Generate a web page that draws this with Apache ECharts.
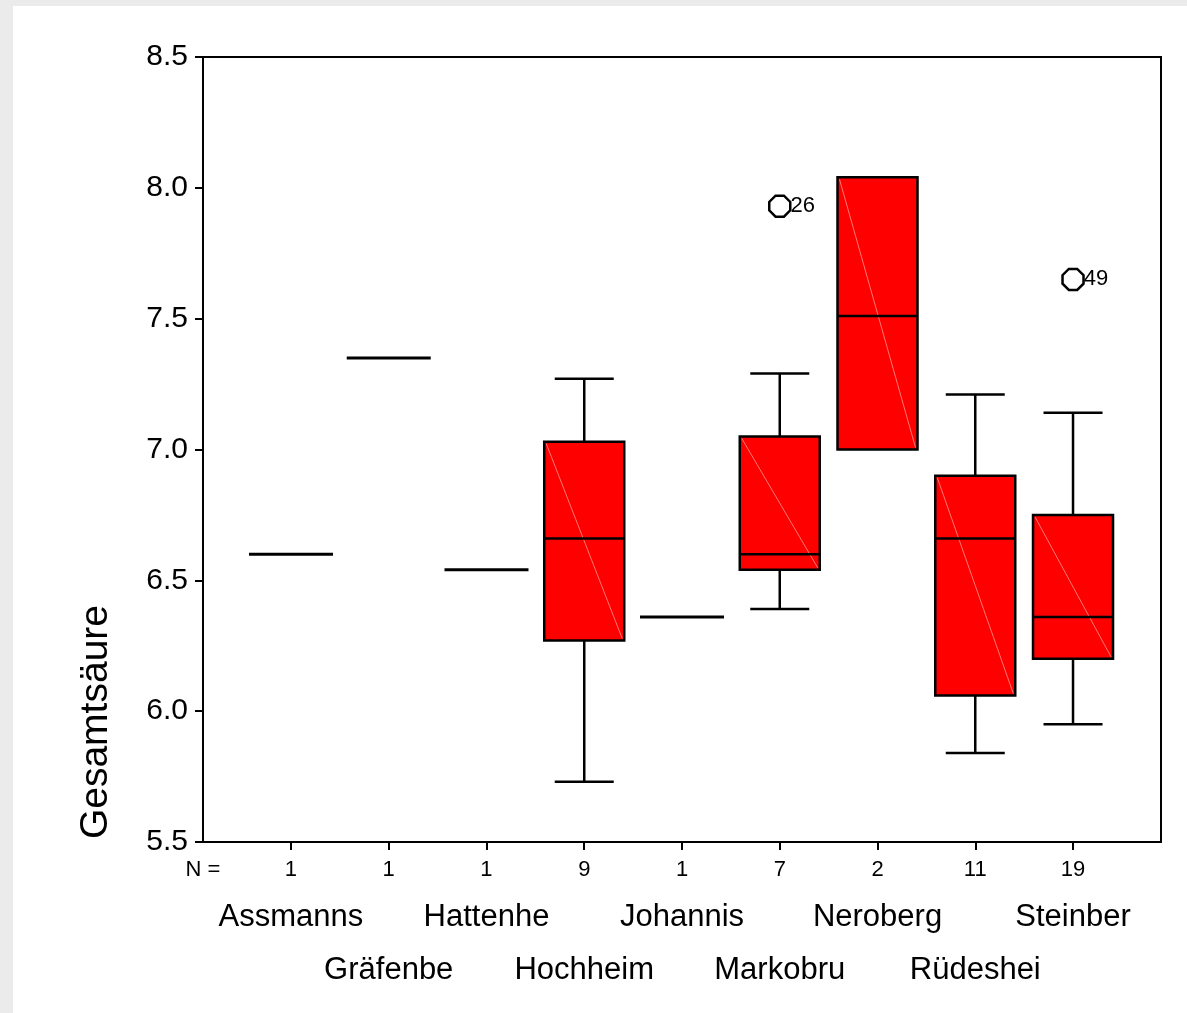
<!DOCTYPE html>
<html>
<head>
<meta charset="utf-8">
<script src="https://cdn.jsdelivr.net/npm/echarts@6/dist/echarts.min.js"></script>
<style>
    html, body {margin: 0; padding: 0; background: #ebebeb; width: 1187px; height: 1013px; overflow: hidden;}
    #main {position: absolute; left: 13px; top: 6px; width: 1174px; height: 1007px; background: #fff;}
</style>
</head>
<body>
<div id="main"></div>
<script>
// Gruppen (Lagen) und Fallzahlen
let categories = ['Assmanns', 'Gräfenbe', 'Hattenhe', 'Hochheim', 'Johannis', 'Markobru', 'Neroberg', 'Rüdeshei', 'Steinber'];
let counts = [1, 1, 1, 9, 1, 7, 2, 11, 19];

// Boxplot-Kennwerte je Gruppe
let lowWhisker = [6.60, 7.35, 6.54, 5.73, 6.36, 6.39, 7.00, 5.84, 5.95];
let q1 = [6.60, 7.35, 6.54, 6.27, 6.36, 6.54, 7.00, 6.06, 6.20];
let medians = [6.60, 7.35, 6.54, 6.66, 6.36, 6.60, 7.51, 6.66, 6.36];
let q3 = [6.60, 7.35, 6.54, 7.03, 6.36, 7.05, 8.04, 6.90, 6.75];
let highWhisker = [6.60, 7.35, 6.54, 7.27, 6.36, 7.29, 8.04, 7.21, 7.14];

// Ausreißer
let outlierGroup = [5, 8];
let outlierValues = [7.93, 7.65];
let outlierIds = ['26', '49'];

let yTicks = [5.5, 6.0, 6.5, 7.0, 7.5, 8.0, 8.5];

let font = 'Liberation Sans';
let myChart = echarts.init(document.getElementById('main'));

let boxData = [];
for (let i = 0; i < categories.length; i++) {
    boxData.push([i, lowWhisker[i], q1[i], medians[i], q3[i], highWhisker[i]]);
}
let outlierData = [];
for (let i = 0; i < outlierGroup.length; i++) {
    outlierData.push([outlierGroup[i], outlierValues[i]]);
}
let positions = categories.map(function (c, i) { return i; });

function renderBox(params, api) {
    let x = api.value(0);
    let lo = api.coord([x, api.value(1)]);
    let b1 = api.coord([x, api.value(2)]);
    let md = api.coord([x, api.value(3)]);
    let b3 = api.coord([x, api.value(4)]);
    let hi = api.coord([x, api.value(5)]);
    let cx = lo[0];
    let half = 40, cap = 29.5;
    let black = {stroke: '#000', lineWidth: 2.5};
    if (api.value(2) === api.value(4)) {
        // nur ein Fall: nur Medianlinie
        return {
            type: 'line',
            shape: {x1: cx - 42, y1: md[1], x2: cx + 42, y2: md[1]},
            style: {stroke: '#000', lineWidth: 3}
        };
    }
    let children = [];
    if (hi[1] < b3[1]) {
        children.push({type: 'line', shape: {x1: cx, y1: hi[1], x2: cx, y2: b3[1]}, style: black});
        children.push({type: 'line', shape: {x1: cx - cap, y1: hi[1], x2: cx + cap, y2: hi[1]}, style: black});
    }
    if (lo[1] > b1[1]) {
        children.push({type: 'line', shape: {x1: cx, y1: b1[1], x2: cx, y2: lo[1]}, style: black});
        children.push({type: 'line', shape: {x1: cx - cap, y1: lo[1], x2: cx + cap, y2: lo[1]}, style: black});
    }
    children.push({
        type: 'rect',
        shape: {x: cx - half, y: b3[1], width: half * 2, height: b1[1] - b3[1]},
        style: {fill: '#ff0000', stroke: '#000', lineWidth: 2.5}
    });
    children.push({
        type: 'line',
        shape: {x1: cx - half + 2, y1: b3[1] + 2, x2: cx + half - 2, y2: b1[1] - 2},
        style: {stroke: 'rgba(255,170,170,0.7)', lineWidth: 1}
    });
    children.push({type: 'line', shape: {x1: cx - half, y1: md[1], x2: cx + half, y2: md[1]}, style: black});
    return {type: 'group', children: children};
}

let option = {
    animation: false,
    textStyle: {fontFamily: font},
    grid: {
        left: 190,
        top: 51,
        right: 26,
        bottom: 171,
        show: true,
        borderColor: '#000',
        borderWidth: 2
    },
    graphic: [{
        type: 'text',
        left: 64,
        top: 599,
        rotation: Math.PI / 2,
        style: {
            text: 'Gesamtsäure',
            font: '39px "Liberation Sans"',
            fill: '#000'
        }
    }],
    xAxis: [
        {
            type: 'value',
            min: -0.9,
            max: 8.9,
            splitLine: {show: false},
            axisLine: {show: true, onZero: false, lineStyle: {color: '#000', width: 2}},
            axisTick: {show: true, length: 8, customValues: positions, lineStyle: {color: '#000', width: 2}},
            axisLabel: {
                customValues: [-0.9].concat(positions),
                margin: 17,
                fontSize: 22,
                color: '#000',
                fontFamily: font,
                formatter: function (v) {
                    if (v < 0) return 'N =';
                    return String(counts[Math.round(v)]);
                }
            }
        },
        {
            type: 'value',
            position: 'bottom',
            min: -0.9,
            max: 8.9,
            splitLine: {show: false},
            axisLine: {show: false, onZero: false},
            axisTick: {show: false},
            axisLabel: {
                customValues: [0, 2, 4, 6, 8],
                margin: 60,
                fontSize: 31,
                color: '#000',
                fontFamily: font,
                formatter: function (v) { return categories[Math.round(v)]; }
            }
        },
        {
            type: 'value',
            position: 'bottom',
            min: -0.9,
            max: 8.9,
            splitLine: {show: false},
            axisLine: {show: false, onZero: false},
            axisTick: {show: false},
            axisLabel: {
                customValues: [1, 3, 5, 7],
                margin: 113,
                fontSize: 31,
                color: '#000',
                fontFamily: font,
                formatter: function (v) { return categories[Math.round(v)]; }
            }
        }
    ],
    yAxis: {
        type: 'value',
        min: yTicks[0],
        max: yTicks[yTicks.length - 1],
        interval: 0.5,
        splitLine: {show: false},
        axisLine: {show: true, onZero: false, lineStyle: {color: '#000', width: 2}},
        axisTick: {show: true, length: 8, lineStyle: {color: '#000', width: 2}},
        axisLabel: {
            margin: 15,
            fontSize: 30,
            color: '#000',
            fontFamily: font,
            formatter: function (v) { return v.toFixed(1); }
        }
    },
    series: [
        {
            type: 'custom',
            renderItem: renderBox,
            encode: {x: 0, y: [1, 2, 3, 4, 5]},
            data: boxData,
            z: 3
        },
        {
            type: 'scatter',
            data: outlierData,
            symbol: 'path://M3,0 L7,0 L10,3 L10,7 L7,10 L3,10 L0,7 L0,3 Z',
            symbolSize: 21,
            itemStyle: {color: '#fff', borderColor: '#000', borderWidth: 2.5, opacity: 1},
            label: {
                show: true,
                position: 'right',
                distance: -1,
                fontSize: 22,
                color: '#000',
                fontFamily: font,
                formatter: function (p) { return outlierIds[p.dataIndex]; }
            },
            z: 4
        }
    ]
};
myChart.setOption(option);
</script>
</body>
</html>
